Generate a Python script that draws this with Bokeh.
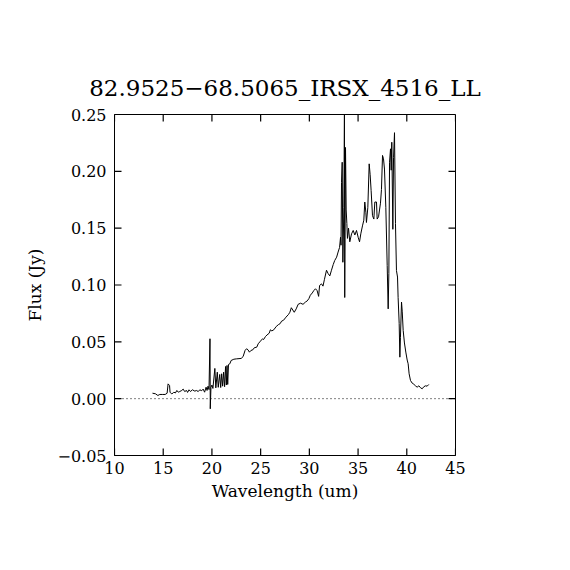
from bokeh.plotting import figure
from bokeh.models import LinearAxis, FixedTicker, CustomJSTickFormatter, Span
from bokeh.embed import file_html
from bokeh.resources import INLINE

title_text = "82.9525\u221268.5065_IRSX_4516_LL"
x_label = "Wavelength (um)"
y_label = "Flux (Jy)"

x_ticks = [10, 15, 20, 25, 30, 35, 40, 45]
x_tick_labels = ["10", "15", "20", "25", "30", "35", "40", "45"]
y_ticks = [-0.05, 0.0, 0.05, 0.10, 0.15, 0.20, 0.25]
y_tick_labels = ["\u22120.05", "0.00", "0.05", "0.10", "0.15", "0.20", "0.25"]

wavelength = [
    13.9, 14.2, 14.45, 14.65, 14.9, 15.2, 15.4, 15.5, 15.65, 15.7, 15.85, 16.0, 16.1, 16.25,
    16.4, 16.55, 16.7, 16.9, 17.05, 17.2, 17.4, 17.5, 17.65, 17.8, 18.0, 18.25, 18.4, 18.6,
    18.75, 18.95, 19.1, 19.25, 19.4, 19.5, 19.6, 19.7, 19.8, 19.83, 19.9, 20.0, 20.1, 20.3,
    20.4, 20.55, 20.65, 20.8, 20.9, 21.0, 21.1, 21.2, 21.3, 21.4, 21.48, 21.55, 21.62, 21.7,
    21.84, 21.97, 22.25, 22.5, 23.0, 23.2, 23.4, 23.55, 23.7, 23.85, 24.0, 24.2, 24.35, 24.6,
    24.75, 24.98, 25.2, 25.3, 25.5, 25.65, 25.88, 26.0, 26.15, 26.35, 26.6, 26.85, 27.0, 27.15,
    27.35, 27.6, 27.85, 28.0, 28.15, 28.3, 28.45, 28.65, 28.85, 29.1, 29.35, 29.6, 29.78, 29.95,
    30.1, 30.3, 30.45, 30.63, 30.8, 30.95, 31.05, 31.25, 31.4, 31.55, 31.76, 31.93, 32.1, 32.27,
    32.45, 32.6, 32.8, 32.95, 33.1, 33.2, 33.25, 33.3, 33.37, 33.44, 33.54, 33.6, 33.63, 33.71,
    33.78, 33.85, 33.91, 34.02, 34.15, 34.33, 34.5, 34.67, 34.84, 35.01, 35.15, 35.28, 35.45, 35.59,
    35.69, 35.8, 35.86, 36.0, 36.14, 36.24, 36.34, 36.48, 36.62, 36.72, 36.89, 36.96, 37.1, 37.2,
    37.3, 37.4, 37.51, 37.61, 37.71, 37.85, 37.99, 38.09, 38.16, 38.23, 38.33, 38.4, 38.46, 38.57,
    38.64, 38.74, 38.84, 38.94, 39.05, 39.11, 39.22, 39.29, 39.35, 39.46, 39.53, 39.63, 39.76, 39.9,
    40.04, 40.14, 40.24, 40.38, 40.55, 40.72, 40.89, 41.06, 41.24, 41.41, 41.58, 41.75, 41.92, 42.09,
    42.26,
]
flux = [
    0.0048, 0.0043, 0.0028, 0.0037, 0.0037, 0.0037, 0.0048, 0.0130, 0.0116, 0.0057, 0.0043, 0.0048, 0.0057, 0.0050,
    0.0072, 0.0057, 0.0063, 0.0072, 0.0084, 0.0063, 0.0072, 0.0055, 0.0078, 0.0063, 0.0078, 0.0066, 0.0072, 0.0063,
    0.0078, 0.0070, 0.0084, 0.0057, 0.0101, 0.0072, 0.0110, 0.0080, 0.0527, -0.0089, 0.0100, 0.0120, 0.0090, 0.0266,
    0.0095, 0.0233, 0.0100, 0.0213, 0.0098, 0.0219, 0.0110, 0.0233, 0.0105, 0.0283, 0.0120, 0.0292, 0.0125, 0.0301,
    0.0307, 0.0336, 0.0347, 0.0350, 0.0354, 0.0370, 0.0424, 0.0439, 0.0430, 0.0409, 0.0424, 0.0430, 0.0448, 0.0453,
    0.0483, 0.0506, 0.0527, 0.0520, 0.0547, 0.0560, 0.0576, 0.0606, 0.0596, 0.0606, 0.0635, 0.0653, 0.0660, 0.0682,
    0.0690, 0.0717, 0.0740, 0.0760, 0.0800, 0.0780, 0.0760, 0.0790, 0.0830, 0.0840, 0.0830, 0.0850, 0.0860, 0.0880,
    0.0910, 0.0930, 0.0950, 0.0967, 0.0950, 0.0900, 0.0996, 0.1010, 0.0990, 0.1050, 0.1130, 0.1100, 0.1080, 0.1130,
    0.1180, 0.1215, 0.1245, 0.1290, 0.1330, 0.1420, 0.1350, 0.1900, 0.2080, 0.1200, 0.1680, 0.2520, 0.0890, 0.2210,
    0.1660, 0.1540, 0.1410, 0.1500, 0.1380, 0.1450, 0.1480, 0.1440, 0.1480, 0.1420, 0.1380, 0.1450, 0.1520, 0.1570,
    0.1730, 0.1640, 0.1550, 0.1680, 0.2066, 0.1970, 0.1830, 0.1610, 0.1580, 0.1730, 0.1730, 0.1580, 0.1600, 0.1660,
    0.1720, 0.1840, 0.2140, 0.2110, 0.2020, 0.1680, 0.1170, 0.0790, 0.1100, 0.2080, 0.2198, 0.2010, 0.2256, 0.1490,
    0.2120, 0.2340, 0.1540, 0.1127, 0.1070, 0.0890, 0.0660, 0.0365, 0.0540, 0.0850, 0.0770, 0.0600, 0.0490, 0.0410,
    0.0340, 0.0307, 0.0219, 0.0160, 0.0137, 0.0127, 0.0113, 0.0101, 0.0113, 0.0096, 0.0087, 0.0105, 0.0113, 0.0110,
    0.0125,
]

FONT = "DejaVu Serif"
X0, X1 = 10, 45
Y0, Y1 = -0.05, 0.25
FRAME = 341          # frame size in pixels
TICK_PX = 7          # inward tick length in pixels
dx = (X1 - X0) * TICK_PX / FRAME
dy = (Y1 - Y0) * TICK_PX / FRAME

p = figure(width=570, height=570, x_range=(X0, X1), y_range=(Y0, Y1),
           output_backend="svg", toolbar_location=None,
           x_axis_location=None, y_axis_location=None,
           min_border_left=114, min_border_right=115,
           min_border_top=114, min_border_bottom=115)
p.grid.visible = False
p.outline_line_color = "black"
p.outline_line_width = 1
p.background_fill_color = "white"
p.border_fill_color = "white"

p.title.text = title_text
p.title.text_font = FONT
p.title.text_font_size = "23px"
p.title.text_font_style = "normal"
p.title.align = "center"
p.title.text_color = "black"
p.title.standoff = 27

def label_fmt(tvals, tlabels):
    return CustomJSTickFormatter(args=dict(tvals=tvals, tlabels=tlabels), code="""
        let best = 0, d = Infinity;
        for (let i = 0; i < tvals.length; i++) {
            const e = Math.abs(tvals[i] - tick);
            if (e < d) { d = e; best = i; }
        }
        return tlabels[best];
    """)

def style(ax):
    ax.minor_tick_line_color = None
    ax.major_tick_line_color = None
    ax.major_tick_in = 0
    ax.major_tick_out = 0
    ax.axis_line_color = "black"
    ax.major_label_text_font = FONT
    ax.major_label_text_font_size = "16px"
    ax.major_label_text_color = "black"
    ax.axis_label_text_font = FONT
    ax.axis_label_text_font_size = "17px"
    ax.axis_label_text_font_style = "normal"
    ax.axis_label_text_color = "black"

xb = LinearAxis(ticker=FixedTicker(ticks=x_ticks), formatter=label_fmt(x_ticks, x_tick_labels),
                axis_label=x_label)
style(xb)
xb.major_label_standoff = 6
xb.axis_label_standoff = 4
p.add_layout(xb, "below")

yl = LinearAxis(ticker=FixedTicker(ticks=y_ticks), formatter=label_fmt(y_ticks, y_tick_labels),
                axis_label=y_label)
style(yl)
yl.major_label_standoff = 8
yl.axis_label_standoff = 9
p.add_layout(yl, "left")

# inward tick marks on all four sides
nx, ny = len(x_ticks), len(y_ticks)
p.segment(x0=x_ticks + x_ticks, y0=[Y0] * nx + [Y1] * nx,
          x1=x_ticks + x_ticks, y1=[Y0 + dy] * nx + [Y1 - dy] * nx,
          line_color="black", line_width=1.2)
p.segment(x0=[X0] * ny + [X1] * ny, y0=y_ticks + y_ticks,
          x1=[X0 + dx] * ny + [X1 - dx] * ny, y1=y_ticks + y_ticks,
          line_color="black", line_width=1.2)

p.add_layout(Span(location=0, dimension="width", line_color="black",
                  line_width=1, line_dash="1 3"))

p.line(wavelength, flux, line_color="black", line_width=1)

open("out.html", "w").write(file_html(p, INLINE))
